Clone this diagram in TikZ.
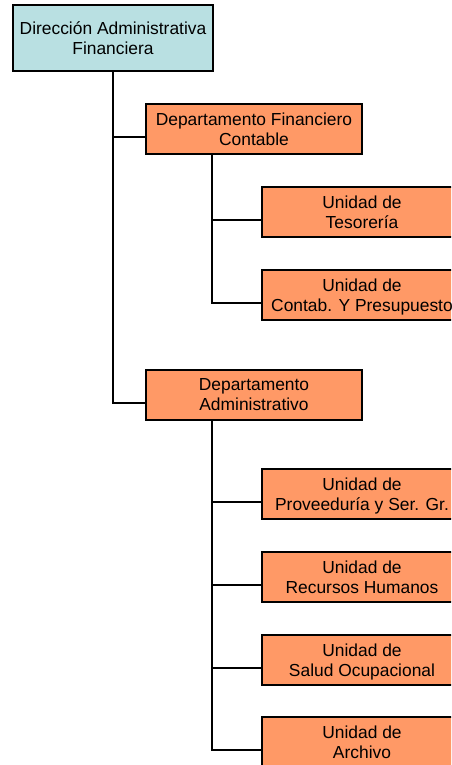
\documentclass[tikz,border=0pt]{standalone}
\usepackage{fontspec}
\setmainfont{Liberation Sans}
\usepackage{tikz}
\usetikzlibrary{positioning, calc}
\usepackage{xcolor}
\definecolor{headfill}{HTML}{B9E0E2}
\definecolor{unitfill}{HTML}{FF9966}

\begin{document}
\begin{tikzpicture}[
		x=1pt, y=-1pt,
		font=\fontsize{17.4}{20}\selectfont,
		box/.style={
			draw,
			line width=1.8pt,
			align=center,
			inner sep=0pt,
			text depth=0pt,
			minimum height=50pt
		},
		headbox/.style={box, fill=headfill, minimum width=200pt, minimum height=66pt},
		deptbox/.style={box, fill=unitfill, minimum width=216pt},
		unitbox/.style={box, fill=unitfill, minimum width=200pt},
		conn/.style={line width=2pt}
		]
		
		\clip (0,0) rectangle (451,765);
		
		% --- Direccion (top) ---
		\node[headbox] (dir) at (113,38) {
			Dirección Administrativa\\
			Financiera
		};
		
		% --- Departamentos ---
		\node[deptbox] (depfin) at (254,129) {
			Departamento Financiero\\
			Contable
		};
		\node[deptbox] (depadm) at (254,395) {
			Departamento\\
			Administrativo
		};
		
		% --- Unidades (Financiero) ---
		\node[unitbox] (teso) at (362,212) {Unidad de\\Tesorería};
		\node[unitbox] (conta) at (362,295) {Unidad de\\Contab. Y Presupuesto};
		
		% --- Unidades (Administrativo) ---
		\node[unitbox] (prov) at (362,494) {Unidad de\\Proveeduría y Ser. Gr.};
		\node[unitbox] (rrhh) at (362,577) {Unidad de\\Recursos Humanos};
		\node[unitbox] (salud) at (362,660) {Unidad de\\Salud Ocupacional};
		\node[unitbox] (arch) at (362,742) {Unidad de\\Archivo};
		
		% --- Connectors ---
		\draw[conn] (dir.south) |- ($(depadm.west)+(0,8)$);
		\draw[conn] (dir.south |- depfin.west) ++(0,8) -- ($(depfin.west)+(0,8)$);
		
		\draw[conn] ($(depfin.south west)+(67,0)$) |- ($(conta.west)+(0,8)$);
		\draw[conn] ($(depfin.south west)+(67,0)$) |- ($(teso.west)+(0,8)$);
		
		\foreach \u in {prov, rrhh, salud, arch}
			\draw[conn] ($(depadm.south west)+(67,0)$) |- ($(\u.west)+(0,8)$);
		
	\end{tikzpicture}
\end{document}
